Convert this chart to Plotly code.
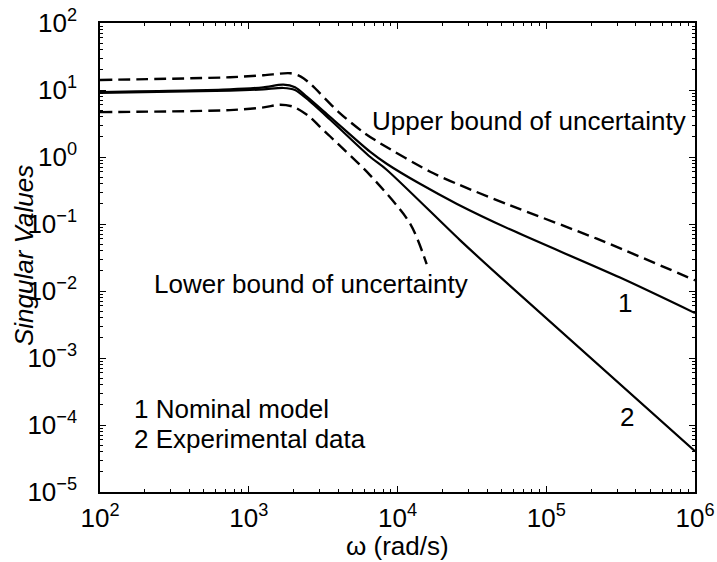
import plotly.graph_objects as go

# ---- data (omega in rad/s, singular values) ----
omega_nominal = [100, 748, 1253, 1706, 2046, 2455, 3516, 6531, 8453, 14158, 25119, 57016, 313329, 1e6]
sv_nominal = [9.33, 10.23, 10.96, 11.99, 10.96, 7.94, 3.98, 1.202, 0.794, 0.398, 0.1995, 0.0832, 0.01585, 0.004677]

omega_experimental = [100, 748, 1253, 1706, 2046, 2455, 3516, 6531, 8453, 26303, 48978, 1e6]
sv_experimental = [9.02, 9.77, 10.23, 10.72, 10.0, 7.41, 3.63, 1.009, 0.646, 0.0575, 0.01622, 4.07e-5]

omega_upper = [100, 748, 1259, 1905, 2239, 2570, 4074, 5888, 7586, 16596, 26303, 57016, 218776, 1e6]
sv_upper = [14.13, 15.49, 16.6, 17.78, 15.85, 12.59, 4.57, 2.344, 1.622, 0.603, 0.380, 0.1905, 0.0603, 0.01445]

omega_lower = [100, 748, 1259, 1622, 1995, 2570, 3013, 3516, 6531, 12134, 15704]
sv_lower = [4.68, 5.01, 5.50, 6.03, 5.62, 3.98, 2.82, 2.04, 0.537, 0.1023, 0.0251]

x_tickvals = [1e2, 1e3, 1e4, 1e5, 1e6]
x_ticktext = ["10<sup>2</sup>", "10<sup>3</sup>", "10<sup>4</sup>", "10<sup>5</sup>", "10<sup>6</sup>"]
y_tickvals = [1e-5, 1e-4, 1e-3, 1e-2, 1e-1, 1e0, 1e1, 1e2]
y_ticktext = ["10<sup>−5</sup>", "10<sup>−4</sup>", "10<sup>−3</sup>", "10<sup>−2</sup>",
              "10<sup>−1</sup>", "10<sup>0</sup>", "10<sup>1</sup>", "10<sup>2</sup>"]

FONT = "Liberation Sans, Arial, Helvetica, sans-serif"
FS = 26

fig = go.Figure()
solid = dict(color="black", width=2.2)
dashed = dict(color="black", width=2.4, dash="12px,6px")

fig.add_trace(go.Scatter(x=omega_upper, y=sv_upper, mode="lines",
                         line=dict(**dashed, shape="spline", smoothing=0.8)))
fig.add_trace(go.Scatter(x=omega_lower, y=sv_lower, mode="lines",
                         line=dict(**dashed, shape="spline", smoothing=0.8)))
fig.add_trace(go.Scatter(x=omega_nominal, y=sv_nominal, mode="lines",
                         line=dict(**solid, shape="spline", smoothing=0.8)))
fig.add_trace(go.Scatter(x=omega_experimental, y=sv_experimental, mode="lines",
                         line=dict(**solid, shape="spline", smoothing=0.8)))

axis_common = dict(
    type="log", showgrid=False, zeroline=False, automargin=False,
    showline=True, linecolor="black", linewidth=1.5, mirror="ticks",
    ticks="inside", ticklen=6, tickwidth=1, tickcolor="black",
    tickmode="array",
    tickfont=dict(family=FONT, size=FS, color="black"),
    minor=dict(ticks="inside", ticklen=3, tickwidth=1, tickcolor="black", dtick="D1", showgrid=False),
)

fig.update_xaxes(range=[2, 6], tickvals=x_tickvals, ticktext=x_ticktext, ticklabelstandoff=2, **axis_common)
fig.update_yaxes(range=[-5, 2], tickvals=y_tickvals, ticktext=y_ticktext, ticklabelstandoff=16, **axis_common)

ann_font = dict(family=FONT, size=FS, color="black")
annotations = [
    dict(text="Upper bound of uncertainty", x=3.815, y=0.537, xanchor="left", yanchor="middle"),
    dict(text="Lower bound of uncertainty", x=2.35, y=-1.896, xanchor="left", yanchor="middle"),
    dict(text="1 Nominal model", x=2.215, y=-3.76, xanchor="left", yanchor="middle"),
    dict(text="2 Experimental data", x=2.215, y=-4.21, xanchor="left", yanchor="middle"),
    dict(text="1", x=5.53, y=-2.18, xanchor="center", yanchor="middle"),
    dict(text="2", x=5.543, y=-3.88, xanchor="center", yanchor="middle"),
]
for a in annotations:
    fig.add_annotation(xref="x", yref="y", showarrow=False, font=ann_font, **a)

fig.add_annotation(text="<i>Singular Values</i>", xref="paper", yref="paper",
                   x=-0.128, y=0.505, xanchor="center", yanchor="middle",
                   textangle=-90, showarrow=False, font=ann_font)
fig.add_annotation(text="ω (rad/s)", xref="paper", yref="paper",
                   x=0.5, y=-0.115, xanchor="center", yanchor="middle",
                   showarrow=False, font=ann_font)

fig.update_layout(
    width=717, height=562,
    margin=dict(l=100, r=22, t=23, b=70),
    paper_bgcolor="white", plot_bgcolor="white",
    showlegend=False,
    font=dict(family=FONT, size=FS, color="black"),
)

fig.write_html("out.html")
